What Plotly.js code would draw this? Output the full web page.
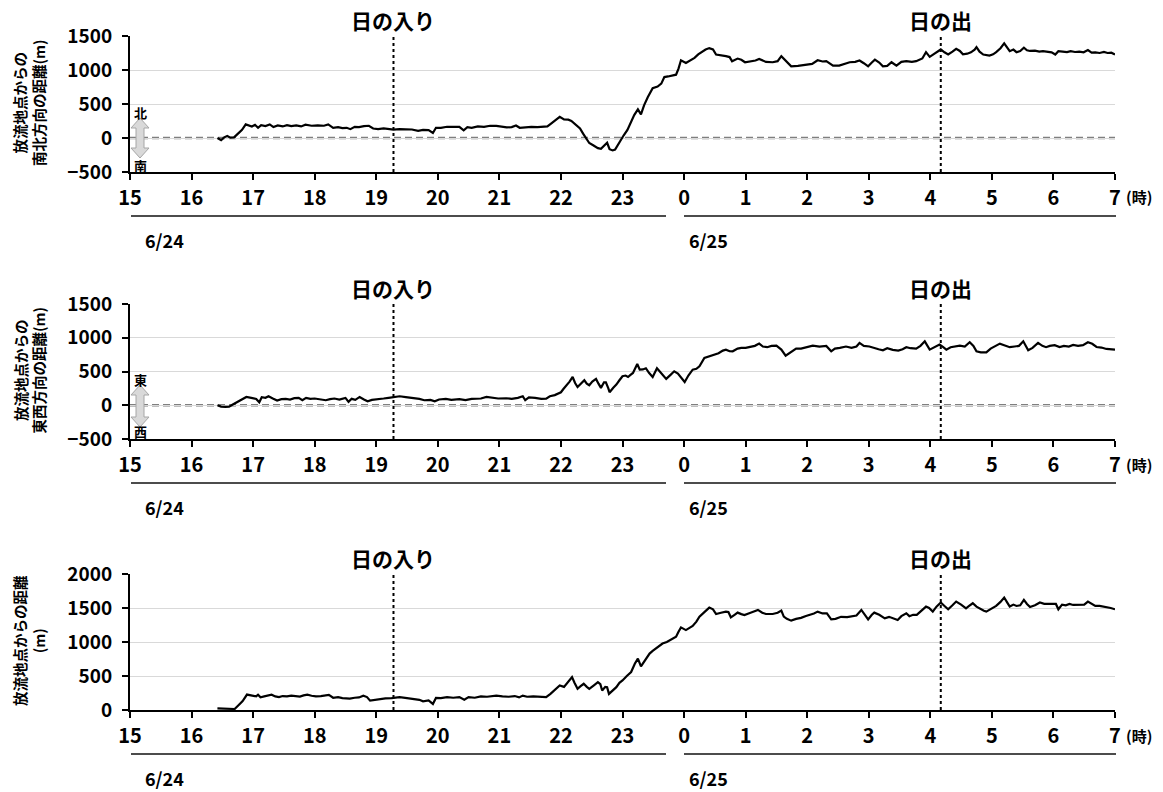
<!DOCTYPE html>
<html>
<head>
<meta charset="utf-8">
<script src="https://cdn.plot.ly/plotly-3.0.1.min.js"></script>
<style>html,body{margin:0;padding:0;background:#fff;}#chart{width:1163px;height:792px;}</style>
</head>
<body>
<div id="chart"></div>
<script>
// ---- data ----
const hourTicks = [15,16,17,18,19,20,21,22,23,24,25,26,27,28,29,30,31];
const hourLabels = ['15','16','17','18','19','20','21','22','23','0','1','2','3','4','5','6','7'];
const sunsetHour = 19.28;
const sunriseHour = 28.17;
const eventLabels = ['日の入り', '日の出'];
const dateLabels = ['6/24', '6/25'];
const yTitles = ['放流地点からの<br>南北方向の距離(m)', '放流地点からの<br>東西方向の距離(m)', '放流地点からの距離<br>(m)'];
const dirLabels = [['北','南'], ['東','西']];

const nsHours = [16.42,16.48,16.53,16.58,16.63,16.69,16.75,16.82,16.88,16.93,16.98,17.03,17.08,17.13,17.2,17.27,17.33,17.4,17.48,17.55,17.62,17.7,17.78,17.85,17.95,18.05,18.15,18.22,18.3,18.38,18.45,18.52,18.58,18.65,18.72,18.8,18.88,18.95,19.03,19.12,19.2,19.28,19.38,19.48,19.58,19.68,19.76,19.85,19.92,19.97,20.05,20.15,20.25,20.35,20.42,20.48,20.55,20.65,20.75,20.85,20.95,21.05,21.12,21.2,21.27,21.33,21.42,21.52,21.62,21.7,21.78,21.85,21.92,21.98,22.05,22.12,22.17,22.25,22.31,22.36,22.41,22.46,22.53,22.6,22.65,22.7,22.75,22.79,22.84,22.88,22.95,23.02,23.08,23.14,23.19,23.25,23.3,23.35,23.41,23.49,23.57,23.63,23.68,23.74,23.8,23.87,23.91,23.95,24.03,24.1,24.17,24.23,24.28,24.35,24.41,24.47,24.52,24.6,24.68,24.74,24.78,24.87,24.93,24.99,25.08,25.16,25.22,25.28,25.33,25.44,25.52,25.58,25.66,25.74,25.85,25.98,26.08,26.17,26.25,26.31,26.42,26.52,26.6,26.69,26.78,26.85,26.92,26.99,27.05,27.1,27.17,27.23,27.3,27.37,27.45,27.53,27.61,27.7,27.77,27.87,27.93,27.99,28.05,28.11,28.17,28.23,28.29,28.36,28.42,28.48,28.53,28.6,28.66,28.72,28.75,28.8,28.86,28.96,29.02,29.07,29.14,29.2,29.25,29.29,29.35,29.4,29.46,29.52,29.57,29.62,29.7,29.77,29.83,29.9,29.97,30.03,30.08,30.15,30.22,30.28,30.35,30.42,30.49,30.56,30.62,30.68,30.75,30.82,30.88,30.94,31.0];
const nsMeters = [0,-30,10,30,5,10,60,120,200,190,170,195,150,190,175,200,160,185,170,190,175,185,170,195,180,185,180,200,150,160,145,150,130,165,160,175,180,140,130,140,135,124,130,125,125,105,120,115,74,150,150,165,160,165,114,160,150,170,165,180,178,165,155,160,183,150,160,165,160,165,170,220,270,312,272,270,252,190,140,64,0,-74,-110,-150,-158,-109,-70,-165,-183,-170,-59,40,120,250,337,421,347,480,600,733,757,800,896,905,916,931,1020,1143,1104,1140,1178,1230,1262,1300,1322,1302,1228,1210,1203,1190,1129,1168,1150,1114,1125,1140,1163,1140,1119,1114,1130,1203,1120,1054,1060,1079,1090,1143,1125,1130,1064,1064,1090,1114,1120,1139,1100,1054,1110,1153,1110,1054,1060,1114,1064,1120,1130,1120,1130,1170,1262,1193,1230,1260,1302,1260,1228,1270,1312,1280,1230,1240,1260,1300,1337,1270,1228,1213,1230,1262,1320,1391,1320,1277,1300,1262,1280,1327,1290,1280,1285,1270,1277,1270,1260,1228,1277,1270,1262,1277,1265,1270,1260,1292,1255,1260,1250,1265,1250,1255,1228];

const ewHours = [16.42,16.48,16.55,16.61,16.67,16.73,16.8,16.89,16.97,17.05,17.1,17.14,17.2,17.25,17.32,17.39,17.46,17.53,17.6,17.67,17.74,17.8,17.86,17.93,18.0,18.08,18.18,18.25,18.32,18.4,18.45,18.5,18.55,18.6,18.66,18.73,18.8,18.86,18.93,19.0,19.05,19.12,19.2,19.28,19.38,19.48,19.6,19.7,19.78,19.88,19.95,20.02,20.13,20.22,20.35,20.45,20.55,20.62,20.7,20.79,20.88,20.98,21.11,21.2,21.3,21.38,21.42,21.48,21.58,21.68,21.76,21.82,21.9,22.0,22.04,22.08,22.14,22.19,22.23,22.27,22.33,22.38,22.42,22.46,22.51,22.57,22.61,22.65,22.7,22.73,22.77,22.79,22.85,22.9,22.95,23.0,23.05,23.09,23.13,23.17,23.24,23.28,23.33,23.38,23.43,23.49,23.56,23.62,23.67,23.71,23.78,23.84,23.9,23.95,24.01,24.07,24.14,24.2,24.25,24.33,24.4,24.49,24.56,24.63,24.68,24.74,24.79,24.87,24.93,25.0,25.08,25.15,25.22,25.28,25.35,25.42,25.5,25.58,25.65,25.73,25.82,25.9,26.0,26.09,26.2,26.31,26.39,26.45,26.53,26.63,26.72,26.8,26.85,26.92,27.01,27.1,27.16,27.23,27.3,27.39,27.48,27.55,27.61,27.68,27.77,27.84,27.91,27.99,28.07,28.15,28.21,28.26,28.33,28.41,28.48,28.56,28.64,28.7,28.75,28.82,28.91,28.98,29.05,29.13,29.2,29.29,29.37,29.44,29.51,29.55,29.59,29.66,29.75,29.82,29.88,29.94,30.02,30.1,30.17,30.25,30.32,30.4,30.48,30.56,30.63,30.7,30.78,30.86,30.93,31.0];
const ewMeters = [0,-20,-25,-20,10,44,80,123,110,94,44,118,110,133,100,69,90,95,85,105,109,75,110,95,100,90,74,90,100,85,100,109,50,95,80,123,85,59,80,85,84,100,110,118,133,120,109,95,74,80,59,85,94,80,90,75,95,94,100,123,110,100,104,95,110,133,74,115,110,95,99,133,150,192,240,281,350,419,330,271,330,370,320,296,350,390,320,257,340,340,250,192,260,306,370,429,440,419,450,479,612,528,530,548,480,419,548,480,440,390,450,503,470,420,345,440,528,540,577,701,720,750,770,810,824,800,799,840,850,849,870,880,913,870,860,880,883,824,735,790,839,840,860,883,870,878,799,840,850,870,850,870,923,880,870,840,830,814,845,820,810,830,860,845,838,880,947,824,860,898,860,824,860,870,883,870,933,880,799,784,784,840,880,913,890,860,870,880,947,880,814,850,923,880,860,880,890,863,880,870,893,880,890,933,910,863,855,834,830,824];

const distHours = [16.42,16.5,16.58,16.64,16.7,16.75,16.83,16.9,16.95,16.98,17.05,17.08,17.12,17.18,17.23,17.3,17.36,17.42,17.48,17.55,17.62,17.7,17.76,17.82,17.88,17.95,18.02,18.1,18.18,18.23,18.3,18.38,18.45,18.52,18.57,18.65,18.72,18.79,18.85,18.9,18.97,19.05,19.15,19.25,19.38,19.5,19.6,19.7,19.76,19.85,19.92,19.97,20.05,20.15,20.25,20.35,20.43,20.5,20.6,20.7,20.8,20.88,20.95,21.05,21.15,21.25,21.32,21.38,21.45,21.55,21.65,21.76,21.83,21.9,21.98,22.05,22.1,22.18,22.22,22.27,22.32,22.37,22.42,22.46,22.53,22.6,22.64,22.67,22.72,22.75,22.78,22.85,22.9,22.95,23.0,23.07,23.14,23.2,23.25,23.3,23.37,23.44,23.49,23.54,23.6,23.65,23.72,23.79,23.87,23.91,23.95,24.03,24.09,24.14,24.2,24.25,24.33,24.41,24.47,24.52,24.6,24.68,24.72,24.76,24.82,24.87,24.93,24.98,25.08,25.14,25.2,25.27,25.33,25.44,25.52,25.58,25.62,25.67,25.74,25.82,25.9,25.98,26.05,26.11,26.17,26.25,26.32,26.39,26.46,26.55,26.65,26.75,26.8,26.88,26.93,26.99,27.05,27.09,27.17,27.26,27.33,27.4,27.47,27.53,27.61,27.66,27.72,27.78,27.85,27.93,27.98,28.04,28.1,28.17,28.23,28.29,28.36,28.42,28.5,28.58,28.63,28.69,28.75,28.8,28.87,28.91,28.98,29.07,29.14,29.2,29.25,29.29,29.35,29.4,29.46,29.52,29.57,29.62,29.7,29.78,29.85,29.93,30.0,30.04,30.08,30.14,30.2,30.26,30.32,30.38,30.45,30.5,30.56,30.62,30.68,30.75,30.82,30.86,30.93,31.0];
const distMeters = [25,20,15,10,15,60,130,227,215,212,200,225,188,200,210,225,200,190,205,200,210,205,198,215,225,210,200,205,215,222,180,190,175,170,168,180,185,210,190,138,150,163,170,175,188,175,163,150,128,140,89,178,175,188,180,190,150,190,180,200,195,205,212,200,195,205,185,212,195,200,195,188,237,300,360,340,400,484,400,311,350,385,340,311,360,410,380,286,340,336,237,300,336,400,435,500,558,680,756,642,740,830,870,904,950,978,1000,1037,1077,1150,1215,1175,1210,1235,1300,1373,1440,1506,1481,1412,1430,1447,1440,1363,1400,1432,1410,1397,1430,1450,1472,1430,1412,1412,1430,1462,1373,1340,1314,1340,1355,1383,1400,1420,1447,1420,1420,1333,1340,1370,1365,1380,1390,1472,1410,1333,1400,1432,1400,1348,1370,1350,1323,1380,1422,1380,1400,1400,1460,1521,1500,1447,1520,1580,1530,1481,1540,1595,1550,1496,1530,1570,1520,1490,1460,1447,1480,1531,1590,1654,1580,1521,1550,1530,1540,1620,1560,1515,1540,1580,1560,1560,1550,1560,1481,1550,1540,1560,1545,1550,1545,1550,1595,1560,1530,1530,1520,1511,1500,1481];

const yRanges = [[-500,1500],[-500,1500],[0,2000]];

// ---- layout helpers (pixel geometry) ----
const W = 1163, H = 792;
const fx = p => p / W;
const fy = p => 1 - p / H;
const plotLeft = 130, plotRight = 1115;
const panels = [{top:36,bottom:172},{top:304,bottom:439},{top:574,bottom:710}];
const FONT = "'Noto Sans CJK JP', 'Noto Sans', sans-serif";

const series = [[nsHours, nsMeters],[ewHours, ewMeters],[distHours, distMeters]];
const traces = series.map((s, i) => ({
  type: 'scatter', mode: 'lines', x: s[0], y: s[1],
  xaxis: i === 0 ? 'x' : 'x' + (i + 1),
  yaxis: i === 0 ? 'y' : 'y' + (i + 1),
  line: {color: '#000', width: 2.2}, hoverinfo: 'skip'
}));

const layout = {
  width: W, height: H, margin: {l:0, r:0, t:0, b:0},
  paper_bgcolor: '#fff', plot_bgcolor: '#fff', showlegend: false,
  font: {family: FONT, color: '#000', weight: 'bold'},
  shapes: [], annotations: []
};

panels.forEach((p, i) => {
  const sfx = i === 0 ? '' : String(i + 1);
  layout['xaxis' + sfx] = {
    domain: [fx(plotLeft), fx(plotRight)], anchor: 'y' + sfx,
    range: [15, 31], tickmode: 'array', tickvals: hourTicks, ticktext: hourLabels,
    showgrid: false, zeroline: false, showline: true, linecolor: '#000', linewidth: 2,
    ticks: 'outside', ticklen: 6, tickwidth: 2, tickcolor: '#000',
    tickfont: {family: FONT, size: 20, color: '#000', weight: 'bold'}, ticklabelstandoff: 1,
    fixedrange: true
  };
  layout['yaxis' + sfx] = {
    domain: [fy(p.bottom), fy(p.top)], anchor: 'x' + sfx,
    range: yRanges[i], tickmode: 'linear', tick0: yRanges[i][0], dtick: 500,
    showgrid: true, gridcolor: '#d9d9d9', gridwidth: 1, zeroline: false,
    showline: true, linecolor: '#000', linewidth: 2,
    ticks: 'outside', ticklen: 6, tickwidth: 2, tickcolor: '#000',
    tickfont: {family: FONT, size: 19, color: '#000', weight: 'bold'}, ticklabelstandoff: 6,
    fixedrange: true
  };
  const xr = 'x' + sfx, yr = 'y' + sfx;
  // zero dashed line
  if (yRanges[i][0] < 0) {
    layout.shapes.push({type:'line', xref: xr, yref: yr, x0: 15, x1: 31, y0: 0, y1: 0,
      line: {color: '#7f7f7f', width: 2.4, dash: '7px,4px'}, layer: 'below'});
  }
  // sunset / sunrise dotted lines
  [sunsetHour, sunriseHour].forEach(h => {
    layout.shapes.push({type:'line', xref: xr, yref: yr + ' domain', x0: h, x1: h, y0: 0, y1: 1,
      line: {color: '#000', width: 2, dash: 'dot'}});
  });
  // event labels
  [sunsetHour, sunriseHour].forEach((h, k) => {
    layout.annotations.push({xref: xr, yref: 'paper', x: h, y: fy(p.top - 16),
      text: eventLabels[k], showarrow: false, xanchor: 'center', yanchor: 'middle',
      font: {family: FONT, size: 21, color: '#000', weight: 'bold'}});
  });
  // (時)
  layout.annotations.push({xref:'paper', yref:'paper', x: fx(1124), y: fy(p.bottom + 25),
    text: '(時)', showarrow: false, xanchor: 'left', yanchor: 'middle',
    font: {family: FONT, size: 15, color: '#000', weight: 'bold'}});
  // date bracket lines
  const ly = fy(p.bottom + 44);
  layout.shapes.push({type:'line', xref:'paper', yref:'paper', x0: fx(131), x1: fx(666), y0: ly, y1: ly,
    line: {color: '#111', width: 1.6}});
  layout.shapes.push({type:'line', xref:'paper', yref:'paper', x0: fx(684), x1: fx(1116), y0: ly, y1: ly,
    line: {color: '#111', width: 1.6}});
  // date labels
  [[143, dateLabels[0]], [687, dateLabels[1]]].forEach(d => {
    layout.annotations.push({xref:'paper', yref:'paper', x: fx(d[0]), y: fy(p.bottom + 68),
      text: d[1], showarrow: false, xanchor: 'left', yanchor: 'middle',
      font: {family: FONT, size: 18, color: '#000', weight: 'bold'}});
  });
  // y titles
  layout.annotations.push({xref:'paper', yref:'paper', x: fx(29), y: fy((p.top + p.bottom) / 2 - 1),
    text: yTitles[i], showarrow: false, textangle: -90, xanchor: 'center', yanchor: 'middle',
    font: {family: FONT, size: 14.5, color: '#000', weight: 'bold'}});
});

// direction arrows (panels 1 and 2)
const arrowGeom = [{cx:140, top:118, bottom:158, lt:112, lb:166}, {cx:140, top:385, bottom:427, lt:379, lb:432}];
arrowGeom.forEach((g, i) => {
  const hw = 9, sw = 4, hh = 10;
  const pts = [[g.cx, g.top],[g.cx+hw, g.top+hh],[g.cx+sw, g.top+hh],[g.cx+sw, g.bottom-hh],[g.cx+hw, g.bottom-hh],
               [g.cx, g.bottom],[g.cx-hw, g.bottom-hh],[g.cx-sw, g.bottom-hh],[g.cx-sw, g.top+hh],[g.cx-hw, g.top+hh]];
  const path = 'M ' + pts.map(q => fx(q[0]) + ',' + fy(q[1])).join(' L ') + ' Z';
  layout.shapes.push({type:'path', xref:'paper', yref:'paper', path: path,
    fillcolor: '#d9d9d9', line: {color: '#a6a6a6', width: 1}});
  layout.annotations.push({xref:'paper', yref:'paper', x: fx(g.cx), y: fy(g.lt), text: dirLabels[i][0],
    showarrow: false, xanchor:'center', yanchor:'middle', font: {family: FONT, size: 13, color:'#000', weight:'bold'}});
  layout.annotations.push({xref:'paper', yref:'paper', x: fx(g.cx), y: fy(g.lb), text: dirLabels[i][1],
    showarrow: false, xanchor:'center', yanchor:'middle', font: {family: FONT, size: 13, color:'#000', weight:'bold'}});
});

Plotly.newPlot('chart', traces, layout, {staticPlot: true, displayModeBar: false});
</script>
</body>
</html>
